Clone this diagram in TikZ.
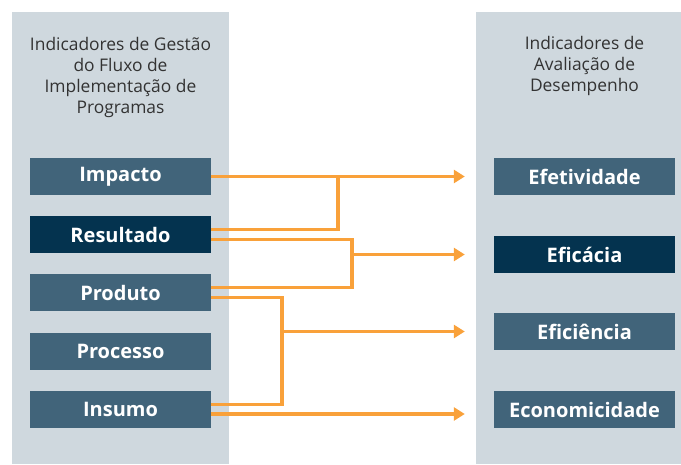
\documentclass[tikz,border=0pt]{standalone}
\usepackage{fontspec}
\IfFontExistsTF{Open Sans SemiBold}{\setmainfont{Open Sans}[BoldFont={Open Sans SemiBold}]}{\setmainfont{Open Sans}}
\usetikzlibrary{arrows.meta,calc}
\definecolor{panelbg}{HTML}{CFD8DE}
\definecolor{boxmid}{HTML}{41647A}
\definecolor{boxdark}{HTML}{04334F}
\definecolor{conn}{HTML}{F9A13A}
\definecolor{headtxt}{HTML}{333333}
\tikzset{
  panel/.style={fill=panelbg, draw=none},
  ind/.style={fill=boxmid, text=white, minimum width=181pt, minimum height=37pt, inner sep=0pt, font=\fontsize{20}{22}\selectfont\bfseries},
  inddark/.style={ind, fill=boxdark},
  head/.style={text=headtxt, align=center, font=\fontsize{17.4}{21}\selectfont, inner sep=0pt},
  link/.style={draw=conn, line width=3.5pt},
  arr/.style={link, -{Triangle[length=11pt,width=13pt]}, shorten >=29pt},
}
\begin{document}
\begin{tikzpicture}[x=1pt,y=1pt]
\useasboundingbox (0,0) rectangle (681,-464);
\fill[panel] (12,-12) rectangle (229,-464);
\fill[panel] (476,-12) rectangle (681,-464);
\node[head] (hl) at (120.5,-77) {Indicadores de Gestão\\do Fluxo de\\Implementação de\\Programas};
\node[head] (hr) at (584.5,-66) {Indicadores de\\Avaliação de\\Desempenho};
\node[ind] (imp) at (120.5,-176.5) {Impacto};
\node[inddark] (res) at (120.5,-234.5) {Resultado};
\node[ind] (pro) at (120.5,-292.5) {Produto};
\node[ind] (prc) at (120.5,-351.5) {Processo};
\node[ind] (ins) at (120.5,-409.5) {Insumo};
\node[ind] (efe) at (584.5,-176.5) {Efetividade};
\node[inddark] (efa) at (584.5,-254.5) {Eficácia};
\node[ind] (efi) at (584.5,-331.5) {Eficiência};
\node[ind] (eco) at (584.5,-409.5) {Economicidade};
\coordinate (j1) at (338,-176.5);
\coordinate (j2) at (352,-254.5);
\coordinate (j3) at (282,-331.5);
\draw[arr] (imp.east) -- (efe.west);
\draw[link] ([yshift=4.8pt]res.east) -| (j1);
\draw[link] ([yshift=-4.8pt]res.east) -- ++(141,0) |- ([yshift=5pt]pro.east);
\draw[arr] (j2) -- (efa.west);
\draw[link] ([yshift=-5pt]pro.east) -- ++(71,0) |- ([yshift=5pt]ins.east);
\draw[arr] (j3) -- (efi.west);
\draw[arr] ([yshift=-4.5pt]ins.east) -- ([yshift=-4.5pt]eco.west);
\end{tikzpicture}
\end{document}
